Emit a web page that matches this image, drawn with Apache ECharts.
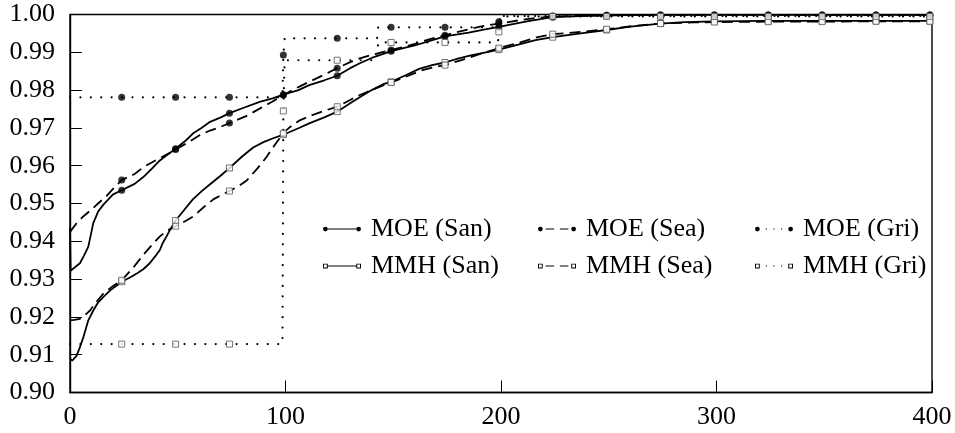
<!DOCTYPE html>
<html>
<head>
<meta charset="utf-8">
<script src="https://cdn.jsdelivr.net/npm/echarts@6/dist/echarts.min.js"></script>
<style>
html, body { margin: 0; padding: 0; background: #fff; }
#main { width: 955px; height: 433px; }
</style>
</head>
<body>
<div id="main"></div>
<script>
var FONT = 'Liberation Serif';

// x positions where the marks sit
var markX = [24, 49, 74, 99, 124, 149, 174, 199, 224, 249, 274, 299, 324, 349, 374, 399];

var names = ['MOE (San)', 'MOE (Sea)', 'MOE (Gri)', 'MMH (San)', 'MMH (Sea)', 'MMH (Gri)'];

var moeSan = [[0, 0.9435], [0.3, 0.9322], [2, 0.9330], [4.6, 0.9342], [6.5, 0.9362], [8.5, 0.9386],
	[10.8, 0.9448], [13, 0.9478], [15.5, 0.9497], [20, 0.9524], [24, 0.9535], [30, 0.9552], [34, 0.9570],
	[38, 0.9592], [41.7, 0.9614], [45, 0.9628], [49, 0.9645], [54, 0.9668], [57, 0.9685], [61, 0.9700],
	[65, 0.9716], [70, 0.9728], [74, 0.9739], [80, 0.9752], [88, 0.9769], [94, 0.9778], [99, 0.9788],
	[106, 0.9800], [111, 0.9813], [118, 0.9826], [124, 0.9838], [130, 0.9858], [134.5, 0.9871],
	[140, 0.9885], [149, 0.9903], [160, 0.9918], [167, 0.9930], [174, 0.9942], [185, 0.9952],
	[192, 0.9960], [199, 0.9967], [212, 0.9982], [224, 0.9993], [237, 0.9996], [249, 0.9998],
	[274, 0.9999], [299, 0.9999], [324, 0.9999], [349, 0.9999], [374, 0.9999], [399, 0.9999], [400, 0.9999]];

var moeSea = [[0, 0.9425], [3.1, 0.9448], [6, 0.9465], [10, 0.9484], [13, 0.9500], [17, 0.9520],
	[21, 0.9545], [24, 0.9562], [30, 0.9578], [34, 0.9596], [40, 0.9615], [45, 0.9630], [49, 0.9643],
	[55, 0.9662], [60.3, 0.9681], [65, 0.9693], [70, 0.9703], [74, 0.9713], [82, 0.9732], [88, 0.9751],
	[94, 0.9770], [99, 0.9787], [106, 0.9808], [111, 0.9822], [118, 0.9841], [124, 0.9858], [130, 0.9874],
	[134.5, 0.9884], [140, 0.9893], [149, 0.9906], [160, 0.9922], [167, 0.9935], [174, 0.9945],
	[185, 0.9961], [192, 0.9970], [199, 0.9976], [212, 0.9988], [224, 0.9995], [249, 0.9998],
	[274, 0.9999], [299, 0.9999], [324, 0.9999], [349, 0.9999], [374, 0.9999], [399, 0.9999], [400, 0.9999]];

var moeGri = [[0, 0.9781], [24, 0.9781], [49, 0.9781], [74, 0.9781], [98.6, 0.9781], [99, 0.9893],
	[99.6, 0.9937], [124, 0.9937], [142.5, 0.9937], [143, 0.9966], [149, 0.9966], [174, 0.9966],
	[198.6, 0.9966], [199, 0.9981], [199.6, 0.9996], [224, 0.9996], [249, 0.9996], [274, 0.9996],
	[299, 0.9996], [324, 0.9996], [349, 0.9996], [374, 0.9996], [399, 0.9996], [400, 0.9996]];

var mmhSan = [[0, 0.9090], [1, 0.9084], [3, 0.9097], [4.5, 0.9118], [6.2, 0.9146], [8.5, 0.9191],
	[10.8, 0.9217], [13, 0.9238], [15.5, 0.9253], [19, 0.9272], [24, 0.9293], [28, 0.9305], [31, 0.9315],
	[34, 0.9326], [37, 0.9342], [39.5, 0.9360], [41.7, 0.9377], [43, 0.9395], [44.8, 0.9413], [47, 0.9436],
	[49, 0.9455], [54, 0.9490], [57, 0.9511], [61, 0.9532], [65, 0.9551], [70, 0.9574], [74, 0.9594],
	[80, 0.9625], [85, 0.9648], [90, 0.9663], [94, 0.9672], [99, 0.9682], [106, 0.9699], [111, 0.9712],
	[118, 0.9728], [124, 0.9743], [130, 0.9765], [135, 0.9783], [140, 0.9800], [145, 0.9815],
	[149, 0.9822], [156, 0.9840], [162, 0.9856], [168, 0.9866], [174, 0.9873], [180, 0.9883],
	[186, 0.9892], [193, 0.9900], [199, 0.9907], [208, 0.9920], [216, 0.9932], [224, 0.9940],
	[237, 0.9950], [249, 0.9959], [260, 0.9968], [274, 0.9976], [285, 0.9980], [299, 0.9982],
	[324, 0.9983], [349, 0.9983], [374, 0.9983], [399, 0.9983], [400, 0.9983]];

var mmhSea = [[0, 0.9191], [2, 0.9192], [4.6, 0.9195], [7, 0.9205], [9.3, 0.9217], [12, 0.9238],
	[15.5, 0.9262], [20, 0.9282], [24, 0.9297], [29, 0.9328], [34, 0.9364], [38, 0.9390], [41.7, 0.9413],
	[45, 0.9428], [49, 0.9440], [54, 0.9455], [57.2, 0.9466], [62, 0.9490], [66.5, 0.9511], [70, 0.9522],
	[74, 0.9533], [78, 0.9545], [82, 0.9561], [87, 0.9593], [91.2, 0.9623], [95, 0.9655], [99, 0.9686],
	[102, 0.9702], [106.6, 0.9720], [112, 0.9733], [119, 0.9747], [124, 0.9756], [130, 0.9774],
	[134.5, 0.9787], [140, 0.9800], [145, 0.9812], [149, 0.9820], [157, 0.9838], [163, 0.9852],
	[170, 0.9862], [174, 0.9866], [182, 0.9880], [190, 0.9895], [199, 0.9911], [210, 0.9928],
	[217, 0.9940], [224, 0.9948], [237, 0.9954], [249, 0.9961], [262, 0.9970], [274, 0.9976],
	[290, 0.9979], [299, 0.9980], [324, 0.9981], [349, 0.9981], [374, 0.9982], [399, 0.9982], [400, 0.9982]];

var mmhGri = [[0, 0.9128], [24, 0.9128], [49, 0.9128], [74, 0.9128], [98.6, 0.9128], [99, 0.9745],
	[99.6, 0.9879], [124, 0.9879], [142.5, 0.9879], [143, 0.9926], [149, 0.9926], [174, 0.9926],
	[198.6, 0.9926], [199, 0.9954], [199.6, 0.9995], [224, 0.9995], [249, 0.9995], [274, 0.9995],
	[299, 0.9995], [324, 0.9995], [349, 0.9995], [374, 0.9995], [399, 0.9995], [400, 0.9995]];

var curves = [moeSan, moeSea, moeGri, mmhSan, mmhSea, mmhGri];

function marks(curve) {
	return curve.filter(function(p) { return markX.indexOf(p[0]) >= 0; });
}

// legend icons: line with a mark at each end
var dotL = 'M0,3 A2.5,2.5 0 1 1 5,3 A2.5,2.5 0 1 1 0,3 Z ';
var dotR = 'M35,3 A2.5,2.5 0 1 1 40,3 A2.5,2.5 0 1 1 35,3 Z ';
var sqL = 'M0,0.5 L5,0.5 L5,5.5 L0,5.5 Z M1,1.5 L1,4.5 L4,4.5 L4,1.5 Z ';
var sqR = 'M35,0.5 L40,0.5 L40,5.5 L35,5.5 Z M36,1.5 L36,4.5 L39,4.5 L39,1.5 Z ';
var solid = 'M5,2.4 L35,2.4 L35,3.6 L5,3.6 Z ';
var dashed = 'M8,2.4 L17,2.4 L17,3.6 L8,3.6 Z M23,2.4 L32,2.4 L32,3.6 L23,3.6 Z ';
var dotted = 'M11.4,2.4 L12.6,2.4 L12.6,3.6 L11.4,3.6 Z M19.4,2.4 L20.6,2.4 L20.6,3.6 L19.4,3.6 Z M27.4,2.4 L28.6,2.4 L28.6,3.6 L27.4,3.6 Z ';
var icons = [
	'path://' + dotL + solid + dotR,
	'path://' + dotL + dashed + dotR,
	'path://' + dotL + dotted + dotR,
	'path://' + sqL + solid + sqR,
	'path://' + sqL + dashed + sqR,
	'path://' + sqL + dotted + sqR
];

var lineTypes = ['solid', [11, 6], [0.01, 10.4], 'solid', [11, 6], [0.01, 10.4]];

var series = [];
curves.forEach(function(c, i) {
	var isDot = i % 3 === 2;
	series.push({
		name: names[i],
		type: 'line',
		data: c,
		symbol: 'none',
		color: '#000',
		lineStyle: { color: '#000', width: isDot ? 2.2 : 1.8, type: lineTypes[i], cap: isDot ? 'round' : 'butt' },
		z: 2
	});
	series.push({
		name: names[i],
		type: 'scatter',
		data: marks(c),
		symbol: i < 3 ? 'circle' : 'rect',
		symbolSize: i < 3 ? 7 : 6,
		itemStyle: i < 3 ? { color: '#000' } : { color: '#fff', borderColor: '#555', borderWidth: 1 },
		z: 3
	});
});

function legendCol(left, a, b) {
	return {
		orient: 'vertical',
		left: left,
		top: 211,
		itemWidth: 38,
		itemHeight: 4.75,
		itemGap: 11,
		selectedMode: false,
		itemStyle: { color: '#000', borderWidth: 0 },
		textStyle: { fontFamily: FONT, fontSize: 26, color: '#000', lineHeight: 26, padding: [0, 0, 0, 5] },
		data: [{ name: names[a], icon: icons[a] }, { name: names[b], icon: icons[b] }]
	};
}

var myChart = echarts.init(document.getElementById('main'));
var option = {
	animation: false,
	backgroundColor: '#fff',
	textStyle: { fontFamily: FONT },
	grid: {
		left: 70, right: 23, top: 14.5, bottom: 40.5,
		show: true, borderColor: '#000', borderWidth: 1.4
	},
	legend: [legendCol(318, 0, 3), legendCol(533, 1, 4), legendCol(750, 2, 5)],
	xAxis: {
		type: 'value', min: 0, max: 400, interval: 100,
		axisLine: { lineStyle: { color: '#000', width: 1.4 } },
		axisTick: { inside: true, length: 12, lineStyle: { color: '#000', width: 1 } },
		axisLabel: { color: '#000', fontFamily: FONT, fontSize: 26, margin: 12 },
		splitLine: { show: false }
	},
	yAxis: {
		type: 'value', min: 0.9, max: 1.0, interval: 0.01,
		axisLine: { show: true, lineStyle: { color: '#000', width: 1.4 } },
		axisTick: { show: true, inside: true, length: 12, lineStyle: { color: '#000', width: 1 } },
		axisLabel: {
			color: '#000', fontFamily: FONT, fontSize: 26, margin: 15,
			formatter: function(v) { return v.toFixed(2); }
		},
		splitLine: { show: false }
	},
	series: series
};
myChart.setOption(option);
</script>
</body>
</html>
